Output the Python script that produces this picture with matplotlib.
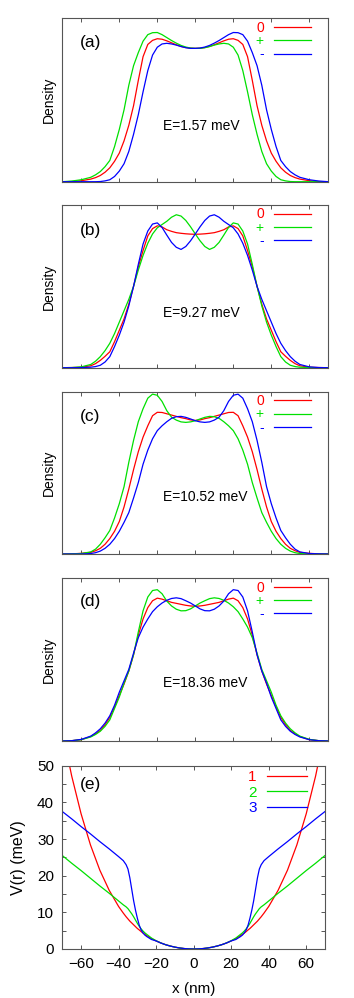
import numpy as np
import matplotlib
matplotlib.use('Agg')
import matplotlib.pyplot as plt
from matplotlib.ticker import MultipleLocator

plt.rcParams['font.family'] = ['Liberation Sans', 'DejaVu Sans']

# ---------------- data ----------------
x_nm = [-70, -65, -60, -55, -52.5, -50, -47.5, -45, -42.5, -40, -37.5, -35, -32.5, -30,
        -27.5, -25, -22.5, -20, -17.5, -15, -12.5, -10, -7.5, -5, -2.5, 0,
        2.5, 5, 7.5, 10, 12.5, 15, 17.5, 20, 22.5, 25, 27.5, 30, 32.5, 35, 37.5, 40,
        42.5, 45, 47.5, 50, 52.5, 55, 60, 65, 70]

# panel (a), E = 1.57 meV
red_a = [0, 0.001, 0.006, 0.016, 0.025, 0.038, 0.058, 0.085, 0.125, 0.175, 0.25, 0.345, 0.465,
         0.62, 0.765, 0.84, 0.865, 0.875, 0.872, 0.862, 0.85, 0.838, 0.828, 0.821, 0.817, 0.816,
         0.817, 0.821, 0.828, 0.838, 0.85, 0.862, 0.872, 0.875, 0.865, 0.84, 0.765, 0.62,
         0.465, 0.345, 0.25, 0.175, 0.125, 0.085, 0.058, 0.038, 0.025, 0.016, 0.006, 0.001, 0]
green_a = [0, 0.004, 0.012, 0.027, 0.042, 0.062, 0.092, 0.13, 0.215, 0.32, 0.44, 0.59, 0.71,
           0.79, 0.86, 0.9, 0.912, 0.913, 0.9, 0.882, 0.864, 0.848, 0.834, 0.824, 0.818, 0.816,
           0.816, 0.82, 0.827, 0.836, 0.843, 0.847, 0.843, 0.823, 0.775, 0.68, 0.55, 0.41,
           0.29, 0.185, 0.11, 0.065, 0.032, 0.012, 0.005, 0.001, 0, 0, 0, 0, 0]
blue_a = [0, 0, 0, 0, 0, 0.001, 0.005, 0.012, 0.032, 0.065, 0.11, 0.185, 0.29, 0.41, 0.55,
          0.68, 0.775, 0.823, 0.843, 0.847, 0.843, 0.836, 0.827, 0.82, 0.816, 0.816,
          0.818, 0.824, 0.834, 0.848, 0.864, 0.882, 0.9, 0.913, 0.912, 0.9, 0.86, 0.79, 0.71,
          0.59, 0.44, 0.32, 0.215, 0.13, 0.092, 0.062, 0.042, 0.027, 0.012, 0.004, 0]

# panel (b), E = 9.27 meV
red_b = [0, 0.001, 0.003, 0.012, 0.025, 0.045, 0.07, 0.098, 0.16, 0.23, 0.3, 0.39, 0.5, 0.62,
         0.72, 0.81, 0.855, 0.872, 0.865, 0.848, 0.838, 0.83, 0.826, 0.823, 0.821, 0.82,
         0.821, 0.823, 0.826, 0.83, 0.838, 0.848, 0.865, 0.872, 0.855, 0.81, 0.72, 0.62, 0.5,
         0.39, 0.3, 0.23, 0.16, 0.098, 0.07, 0.045, 0.025, 0.012, 0.003, 0.001, 0]
green_b = [0, 0.001, 0.005, 0.02, 0.04, 0.068, 0.105, 0.15, 0.21, 0.28, 0.35, 0.42, 0.5, 0.6,
           0.69, 0.765, 0.822, 0.86, 0.88, 0.9, 0.925, 0.94, 0.932, 0.905, 0.866, 0.822,
           0.78, 0.745, 0.727, 0.74, 0.77, 0.815, 0.862, 0.89, 0.883, 0.84, 0.76, 0.635, 0.5,
           0.38, 0.28, 0.2, 0.13, 0.068, 0.035, 0.015, 0.007, 0.003, 0.001, 0, 0]
blue_b = [0, 0, 0.001, 0.003, 0.007, 0.015, 0.035, 0.068, 0.13, 0.2, 0.28, 0.38, 0.5, 0.635,
          0.76, 0.84, 0.883, 0.89, 0.862, 0.815, 0.77, 0.74, 0.727, 0.745, 0.78, 0.822,
          0.866, 0.905, 0.932, 0.94, 0.925, 0.9, 0.88, 0.86, 0.822, 0.765, 0.69, 0.6, 0.5,
          0.42, 0.35, 0.28, 0.21, 0.15, 0.105, 0.068, 0.04, 0.02, 0.005, 0.001, 0]

# panel (c), E = 10.52 meV
red_c = [0, 0.001, 0.004, 0.01, 0.02, 0.035, 0.06, 0.095, 0.14, 0.2, 0.29, 0.4, 0.52, 0.63,
         0.72, 0.79, 0.852, 0.873, 0.872, 0.864, 0.856, 0.848, 0.84, 0.834, 0.826, 0.823,
         0.826, 0.834, 0.84, 0.848, 0.856, 0.864, 0.872, 0.873, 0.852, 0.79, 0.72, 0.63,
         0.52, 0.4, 0.29, 0.2, 0.14, 0.095, 0.06, 0.035, 0.02, 0.01, 0.004, 0.001, 0]
green_c = [0, 0.001, 0.003, 0.013, 0.03, 0.06, 0.1, 0.145, 0.222, 0.31, 0.415, 0.565, 0.7,
           0.815, 0.895, 0.96, 0.985, 0.978, 0.94, 0.883, 0.843, 0.825, 0.814, 0.811, 0.814,
           0.821, 0.832, 0.842, 0.848, 0.846, 0.836, 0.815, 0.79, 0.76, 0.71, 0.64, 0.553,
           0.44, 0.345, 0.255, 0.195, 0.14, 0.095, 0.06, 0.035, 0.018, 0.008, 0.003, 0, 0, 0]
blue_c = [0, 0, 0, 0.003, 0.008, 0.018, 0.035, 0.06, 0.095, 0.14, 0.195, 0.255, 0.345, 0.44,
          0.553, 0.64, 0.71, 0.76, 0.79, 0.815, 0.836, 0.846, 0.848, 0.842, 0.832,
          0.821, 0.814, 0.811, 0.814, 0.825, 0.843, 0.883, 0.94, 0.978, 0.985, 0.96, 0.895,
          0.815, 0.7, 0.565, 0.415, 0.31, 0.222, 0.145, 0.1, 0.06, 0.03, 0.013, 0.003, 0.001, 0]

# panel (d), E = 18.36 meV
red_d = [0, 0.002, 0.008, 0.028, 0.044, 0.065, 0.1, 0.145, 0.21, 0.28, 0.35, 0.43, 0.53, 0.65,
         0.75, 0.82, 0.862, 0.878, 0.872, 0.862, 0.852, 0.846, 0.84, 0.834, 0.83, 0.828,
         0.83, 0.834, 0.84, 0.846, 0.852, 0.862, 0.872, 0.878, 0.862, 0.82, 0.75, 0.65, 0.53,
         0.43, 0.35, 0.28, 0.21, 0.145, 0.1, 0.065, 0.044, 0.028, 0.008, 0.002, 0]
green_d = [0, 0.002, 0.008, 0.025, 0.04, 0.06, 0.09, 0.13, 0.2, 0.27, 0.355, 0.43, 0.53, 0.67,
           0.8, 0.885, 0.925, 0.93, 0.905, 0.86, 0.83, 0.81, 0.8, 0.801, 0.812, 0.83,
           0.848, 0.862, 0.875, 0.88, 0.876, 0.865, 0.848, 0.825, 0.795, 0.75, 0.7, 0.635,
           0.54, 0.44, 0.37, 0.3, 0.22, 0.155, 0.11, 0.075, 0.05, 0.03, 0.01, 0.002, 0]
blue_d = [0, 0.002, 0.01, 0.03, 0.05, 0.075, 0.11, 0.155, 0.22, 0.3, 0.37, 0.44, 0.54, 0.635,
          0.7, 0.75, 0.795, 0.825, 0.848, 0.865, 0.876, 0.88, 0.875, 0.862, 0.848,
          0.83, 0.812, 0.801, 0.8, 0.81, 0.83, 0.86, 0.905, 0.93, 0.925, 0.885, 0.8, 0.67,
          0.53, 0.43, 0.355, 0.27, 0.2, 0.13, 0.09, 0.06, 0.04, 0.025, 0.008, 0.002, 0]

panel_tags = ['(a)', '(b)', '(c)', '(d)']
energies = ['E=1.57 meV', 'E=9.27 meV', 'E=10.52 meV', 'E=18.36 meV']
state_labels = ['0', '+', '-']

# panel (e): confinement potentials
x_pot = [-70, -65, -60, -55, -50, -45, -40, -37.5, -36, -35, -34, -33, -32, -31, -30, -29, -28,
         -27, -26, -25, -22.5, -20, -17.5, -15, -12.5, -10, -7.5, -5, -2.5, 0, 2.5, 5, 7.5,
         10, 12.5, 15, 17.5, 20, 22.5, 25, 26, 27, 28, 29, 30, 31, 32, 33, 34, 35, 36, 37.5,
         40, 45, 50, 55, 60, 65, 70]
V1 = [59.6, 47.2, 36.9, 28.4, 21.5, 16.0, 11.6, 9.8, 8.8, 8.2, 7.6, 7.1, 6.6, 6.1, 5.6, 5.2,
      4.75, 4.35, 4.0, 3.65, 2.85, 2.2, 1.64, 1.18, 0.81, 0.51, 0.28, 0.12, 0.03, 0,
      0.03, 0.12, 0.28, 0.51, 0.81, 1.18, 1.64, 2.2, 2.85, 3.65, 4.0, 4.35, 4.75, 5.2, 5.6,
      6.1, 6.6, 7.1, 7.6, 8.2, 8.8, 9.8, 11.6, 16.0, 21.5, 28.4, 36.9, 47.2, 59.6]
V2 = [25.5, 23.4, 21.4, 19.3, 17.2, 15.2, 13.1, 12.05, 11.5, 11.0, 10.3, 9.6, 8.8, 7.9, 7.0,
      6.2, 5.5, 4.9, 4.4, 4.0, 3.0, 2.25, 1.66, 1.18, 0.81, 0.51, 0.28, 0.12, 0.03, 0,
      0.03, 0.12, 0.28, 0.51, 0.81, 1.18, 1.66, 2.25, 3.0, 4.0, 4.4, 4.9, 5.5, 6.2, 7.0,
      7.9, 8.8, 9.6, 10.3, 11.0, 11.5, 12.05, 13.1, 15.2, 17.2, 19.3, 21.4, 23.4, 25.5]
V3 = [37.5, 35.5, 33.4, 31.4, 29.3, 27.3, 25.2, 24.1, 23.0, 21.8, 19.4, 16.3, 13.2, 10.6, 8.4,
      6.5, 5.2, 4.4, 3.8, 3.4, 2.6, 2.2, 1.64, 1.18, 0.81, 0.51, 0.28, 0.12, 0.03, 0,
      0.03, 0.12, 0.28, 0.51, 0.81, 1.18, 1.64, 2.2, 2.6, 3.4, 3.8, 4.4, 5.2, 6.5, 8.4,
      10.6, 13.2, 16.3, 19.4, 21.8, 23.0, 24.1, 25.2, 27.3, 29.3, 31.4, 33.4, 35.5, 37.5]
pot_labels = ['1', '2', '3']

# ---------------- style ----------------
RED, GREEN, BLUE = '#ff0000', '#00e000', '#0000ff'
FRAME = '#555555'
W, H = 354.0, 998.0

fig = plt.figure(figsize=(3.54, 9.98), dpi=100)

def rect(left, right, top, bottom):
    return [left / W, 1 - bottom / H, (right - left) / W, (bottom - top) / H]

dens_boxes = [(18.3, 181.7), (205.0, 367.7), (391.7, 554.0), (578.3, 741.0)]
dens_series = [(red_a, green_a, blue_a), (red_b, green_b, blue_b),
               (red_c, green_c, blue_c), (red_d, green_d, blue_d)]
tag_y = [0.85, 0.846, 0.846, 0.856]
e_y = [0.341, 0.334, 0.353, 0.355]


def style_axes(ax):
    for s in ax.spines.values():
        s.set_color(FRAME)
        s.set_linewidth(0.8)
    ax.tick_params(direction='in', color=FRAME, width=0.7, length=3,
                   top=True, right=True, labelsize=11)


for i, ((top, bot), (r, g, b)) in enumerate(zip(dens_boxes, dens_series)):
    ax = fig.add_axes(rect(62.3, 328.3, top, bot))
    style_axes(ax)
    lr, = ax.plot(x_nm, r, color=RED, lw=0.9)
    lg, = ax.plot(x_nm, g, color=GREEN, lw=0.9)
    lb, = ax.plot(x_nm, b, color=BLUE, lw=0.9)
    ax.set_xlim(-70, 70)
    ax.set_ylim(0, 1)
    ax.set_xticks([-60, -40, -20, 0, 20, 40, 60])
    ax.set_yticks([])
    ax.tick_params(labelbottom=False, left=False, right=False)
    ax.text(0.065, tag_y[i], panel_tags[i], transform=ax.transAxes,
            ha='left', va='center', fontsize=12.5)
    ax.text(0.38, e_y[i], energies[i], transform=ax.transAxes,
            ha='left', va='center', fontsize=10)
    ax.text(-0.05, 0.5, 'Density', transform=ax.transAxes, rotation=90,
            ha='center', va='center', fontsize=10)
    leg = ax.legend([lr, lg, lb], state_labels, loc='upper right',
                    bbox_to_anchor=(0.935, 0.985), frameon=False, markerfirst=False,
                    handlelength=2.7, handletextpad=0.7, labelspacing=-0.05,
                    fontsize=10, borderpad=0.0, borderaxespad=0.0)
    for t, c in zip(leg.get_texts(), [RED, GREEN, BLUE]):
        t.set_color(c)

# potential panel
ax = fig.add_axes(rect(62.3, 325.0, 765.7, 949.0))
style_axes(ax)
l1, = ax.plot(x_pot, V1, color=RED, lw=0.9)
l2, = ax.plot(x_pot, V2, color=GREEN, lw=0.9)
l3, = ax.plot(x_pot, V3, color=BLUE, lw=0.9)
ax.set_xlim(-70, 70)
ax.set_ylim(0, 50)
ax.set_xticks([-60, -40, -20, 0, 20, 40, 60])
ax.set_yticks([0, 10, 20, 30, 40, 50])
ax.yaxis.set_minor_locator(MultipleLocator(5))
ax.tick_params(which='minor', direction='in', color=FRAME, width=0.7, length=3,
               left=True, right=True)
ax.tick_params(axis='x', pad=6)
ax.tick_params(axis='y', pad=6)
ax.set_xlabel('x (nm)', fontsize=11)
ax.set_ylabel('V(r) (meV)', fontsize=11.5)
ax.xaxis.set_label_coords(0.5, -0.18)
ax.yaxis.set_label_coords(-0.14, 0.5)
ax.text(0.067, 0.9, '(e)', transform=ax.transAxes, ha='left', va='center', fontsize=12.5)
leg = ax.legend([l1, l2, l3], pot_labels, loc='upper right',
                bbox_to_anchor=(0.931, 0.975), frameon=False, markerfirst=False,
                handlelength=2.6, handletextpad=0.7, labelspacing=0.1,
                fontsize=11, borderpad=0.0, borderaxespad=0.0)
for t, c in zip(leg.get_texts(), [RED, GREEN, BLUE]):
    t.set_color(c)

fig.savefig('out.png', dpi=100)
